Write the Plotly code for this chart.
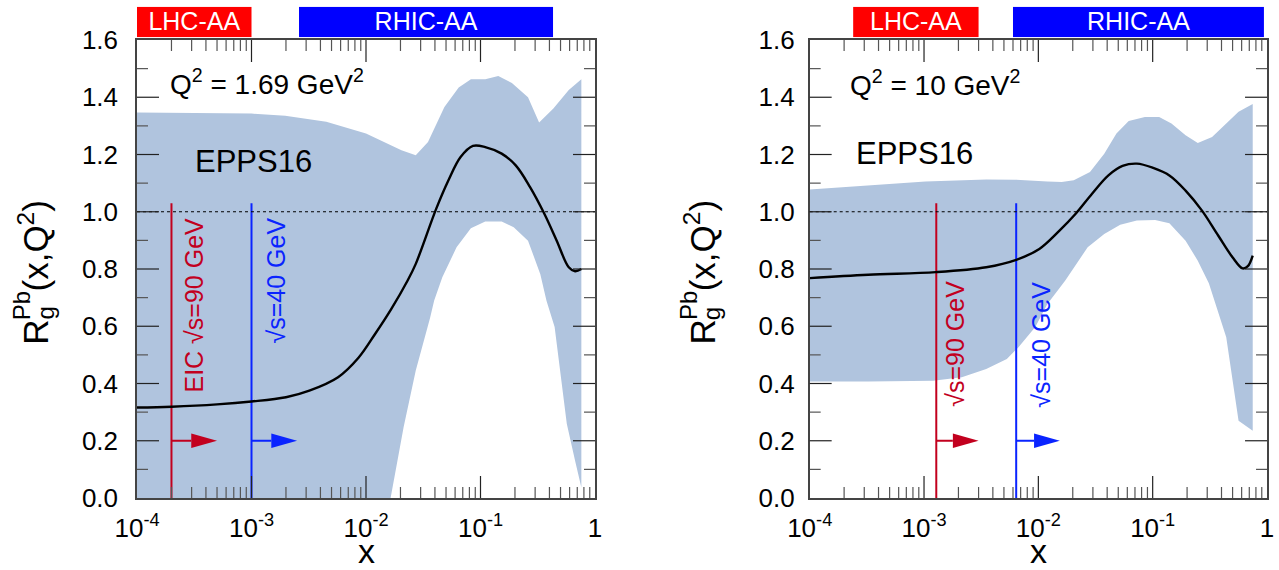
import numpy as np
import plotly.graph_objects as go

# ---------------- data ----------------
# Left panel: Q^2 = 1.69 GeV^2
center_x1 = [1e-4, 2e-4, 5e-4, 1e-3, 2e-3, 3.2e-3, 5.7e-3, 8.6e-3, 0.012, 0.0166, 0.0231, 0.0272,
             0.041, 0.0525, 0.067, 0.0859, 0.11, 0.153, 0.203, 0.271, 0.361, 0.462, 0.59, 0.67, 0.76]
center_y1 = [0.316, 0.319, 0.327, 0.337, 0.352, 0.375, 0.422, 0.49, 0.573, 0.66, 0.76, 0.818,
             1.01, 1.11, 1.191, 1.23, 1.226, 1.203, 1.162, 1.086, 0.993, 0.90, 0.806, 0.792, 0.80]
upper_x1 = [1e-4, 3e-4, 1e-3, 1.97e-3, 4.5e-3, 1.0e-2, 2.04e-2, 2.72e-2, 3.48e-2, 4.84e-2, 6.45e-2,
            8.25e-2, 0.11, 0.143, 0.188, 0.26, 0.325, 0.433, 0.59, 0.76]
upper_y1 = [1.347, 1.346, 1.343, 1.335, 1.314, 1.273, 1.215, 1.197, 1.244, 1.366, 1.434,
            1.463, 1.463, 1.474, 1.45, 1.40, 1.312, 1.361, 1.425, 1.463]
lower_x1 = [1e-4, 0.0164, 0.0213, 0.0272, 0.0363, 0.0394, 0.0464, 0.0618, 0.0824, 0.11, 0.153,
            0.195, 0.26, 0.333, 0.377, 0.444, 0.567, 0.67, 0.76]
lower_y1 = [0.0, 0.0, 0.247, 0.445, 0.63, 0.69, 0.771, 0.876, 0.942, 0.966, 0.966,
            0.946, 0.899, 0.782, 0.689, 0.597, 0.259, 0.13, 0.037]

# Right panel: Q^2 = 10 GeV^2
center_x2 = [1e-4, 3.25e-4, 1.27e-3, 3.5e-3, 6.4e-3, 0.0102, 0.0153, 0.0212, 0.0295, 0.041, 0.0545,
             0.0727, 0.101, 0.14, 0.194, 0.27, 0.374, 0.499, 0.612, 0.68, 0.75]
center_y2 = [0.768, 0.78, 0.789, 0.806, 0.832, 0.87, 0.934, 0.993, 1.063, 1.127, 1.16,
             1.168, 1.153, 1.127, 1.074, 1.004, 0.917, 0.841, 0.802, 0.81, 0.847]
upper_x2 = [1e-4, 3.25e-4, 1.03e-3, 3.5e-3, 6.2e-3, 0.012, 0.016, 0.0204, 0.0283, 0.0377, 0.0482,
            0.0617, 0.0855, 0.114, 0.146, 0.194, 0.248, 0.331, 0.44, 0.564, 0.75]
upper_y2 = [1.078, 1.092, 1.106, 1.113, 1.112, 1.106, 1.104, 1.11, 1.139, 1.203, 1.273,
            1.317, 1.331, 1.331, 1.308, 1.267, 1.24, 1.261, 1.308, 1.349, 1.376]
lower_x2 = [1e-4, 3.25e-4, 1.2e-3, 2.14e-3, 3.5e-3, 5.3e-3, 6.7e-3, 9.4e-3, 0.012, 0.0172, 0.027,
            0.0377, 0.052, 0.0727, 0.105, 0.14, 0.194, 0.248, 0.31, 0.44, 0.564, 0.75]
lower_y2 = [0.407, 0.407, 0.41, 0.422, 0.451, 0.486, 0.527, 0.597, 0.678, 0.76, 0.876,
            0.922, 0.955, 0.969, 0.971, 0.96, 0.899, 0.829, 0.75, 0.562, 0.27, 0.235]

# kinematic reach of the EIC (line position, arrow tip), arrow height, line top
eic90_x = [2e-4, 1.28e-3]
eic90_tip = [5e-4, 3.0e-3]
eic40_x = [1e-3, 6.4e-3]
eic40_tip = [2.5e-3, 1.54e-2]
arrow_level = 0.2
line_top = 1.03

# LHC / RHIC coverage bars (x ranges)
lhc_range = [[1e-4, 1e-3], [2.4e-4, 3.0e-3]]
rhic_range = [[2.6e-3, 0.43], [6.0e-3, 0.94]]

q2_labels = ["Q<sup>2</sup> = 1.69 GeV<sup>2</sup>", "Q<sup>2</sup> = 10 GeV<sup>2</sup>"]
eic90_labels = ["EIC \u221as=90 GeV", "\u221as=90 GeV"]
eic40_labels = ["\u221as=40 GeV", "\u221as=40 GeV"]
model_label = "EPPS16"

x_tickvals = [1e-4, 1e-3, 1e-2, 1e-1, 1]
x_ticktext = ["10<sup>-4</sup>", "10<sup>-3</sup>", "10<sup>-2</sup>", "10<sup>-1</sup>", "1"]
x_minor = [m * 10.0 ** e for e in range(-4, 0) for m in range(2, 10)]
y_major = [0.2, 0.4, 0.6, 0.8, 1.0, 1.2, 1.4]
y_minor = [0.1, 0.3, 0.5, 0.7, 0.9, 1.1, 1.3, 1.5]
y_range = [0, 1.6]
x_log_range = [-4, 0]

# ---------------- style ----------------
FONT = "Liberation Sans, Arial, Helvetica, sans-serif"
RED = "#c2001e"
BLUE = "#0a24ff"
BAND = "#b0c4de"
HEAD_DEC = 0.225   # arrow head length in decades
HEAD_HALF = 0.025  # arrow head half height in y units
MAJ_LEN, MIN_LEN = 22.0, 11.0
MAJ_COL, MIN_COL = "#222222", "#555555"

W, H = 1279, 570
ML, MR, MT, MB = 137, 12, 0, 72
PW = W - ML - MR
PHT = H - MT - MB          # total plotting height (498)
FRAME_TOP = 40.0           # pixel row of the frame top
PH = PHT - FRAME_TOP       # main plot height (458)
panel_left = [137.0, 809.7]
panel_w = 458.0
d1 = [0, panel_w / PW]
d2 = [(panel_left[1] - ML) / PW, 1.0]
ydom_main = [0, PH / PHT]
ydom_bar = [(PHT - 37.3) / PHT, (PHT - 6.7) / PHT]

fig = go.Figure()

panels = [
    dict(cx=center_x1, cy=center_y1, ux=upper_x1, uy=upper_y1, lx=lower_x1, ly=lower_y1),
    dict(cx=center_x2, cy=center_y2, ux=upper_x2, uy=upper_y2, lx=lower_x2, ly=lower_y2),
]

for i, p in enumerate(panels):
    xa = "x" if i == 0 else "x2"
    ya = "y" if i == 0 else "y2"
    # uncertainty band
    fig.add_trace(go.Scatter(x=list(p["ux"]) + list(p["lx"])[::-1],
                             y=list(p["uy"]) + list(p["ly"])[::-1],
                             mode="lines", fill="toself", fillcolor=BAND,
                             line=dict(width=0, color=BAND), xaxis=xa, yaxis=ya,
                             hoverinfo="skip", showlegend=False))
    # EIC lines and arrows
    for xv, tip, col in [(eic90_x[i], eic90_tip[i], RED), (eic40_x[i], eic40_tip[i], BLUE)]:
        base = tip / 10 ** HEAD_DEC
        fig.add_trace(go.Scatter(x=[xv, xv], y=[0, line_top], mode="lines",
                                 line=dict(color=col, width=2), xaxis=xa, yaxis=ya,
                                 hoverinfo="skip", showlegend=False))
        fig.add_trace(go.Scatter(x=[xv, base], y=[arrow_level, arrow_level], mode="lines",
                                 line=dict(color=col, width=2), xaxis=xa, yaxis=ya,
                                 hoverinfo="skip", showlegend=False))
        fig.add_trace(go.Scatter(x=[base, tip, base, base],
                                 y=[arrow_level - HEAD_HALF, arrow_level, arrow_level + HEAD_HALF,
                                    arrow_level - HEAD_HALF],
                                 mode="lines", fill="toself", fillcolor=col,
                                 line=dict(width=0, color=col), xaxis=xa, yaxis=ya,
                                 hoverinfo="skip", showlegend=False))
    # central curve
    fig.add_trace(go.Scatter(x=p["cx"], y=p["cy"], mode="lines", line=dict(color="black", width=2.4),
                             line_shape="spline", xaxis=xa, yaxis=ya, hoverinfo="skip",
                             showlegend=False))

    # coverage bars (own thin subplot above the frame)
    bxa = "x3" if i == 0 else "x4"
    bya = "y3" if i == 0 else "y4"
    for rng, col, lab in [(lhc_range[i], "#ff0000", "LHC-AA"), (rhic_range[i], "#0000ff", "RHIC-AA")]:
        fig.add_trace(go.Scatter(x=[rng[0], rng[1], rng[1], rng[0], rng[0]], y=[0, 0, 1, 1, 0],
                                 mode="lines", fill="toself", fillcolor=col, line=dict(width=0, color=col),
                                 xaxis=bxa, yaxis=bya, hoverinfo="skip", showlegend=False))
        fig.add_trace(go.Scatter(x=[np.sqrt(rng[0] * rng[1])], y=[0.45], mode="text", text=[lab],
                                 textposition="middle center", cliponaxis=False,
                                 textfont=dict(family=FONT, size=25, color="white"),
                                 xaxis=bxa, yaxis=bya, hoverinfo="skip", showlegend=False))

TF = dict(family=FONT, size=26, color="black")
axis_common = dict(showline=True, linecolor="#444", linewidth=1.5, mirror=True, ticks="",
                   showgrid=False, zeroline=False, tickfont=TF)
xcfg = dict(type="log", range=x_log_range, tickmode="array", tickvals=x_tickvals, ticktext=x_ticktext,
            ticklabelstandoff=6, **axis_common)
ycfg = dict(range=y_range, dtick=0.2, tick0=0, tickformat=".1f", **axis_common)
hidden = dict(visible=False, showgrid=False, zeroline=False, fixedrange=True)

fig.update_layout(
    width=W, height=H, margin=dict(l=ML, r=MR, t=MT, b=MB, autoexpand=False),
    paper_bgcolor="white", plot_bgcolor="rgba(0,0,0,0)",
    xaxis=dict(domain=d1, anchor="y", **xcfg),
    yaxis=dict(domain=ydom_main, anchor="x", ticklabelstandoff=12, **ycfg),
    xaxis2=dict(domain=d2, anchor="y2", **xcfg),
    yaxis2=dict(domain=ydom_main, anchor="x2", ticklabelstandoff=8, **ycfg),
    xaxis3=dict(domain=d1, anchor="y3", type="log", range=x_log_range, **hidden),
    yaxis3=dict(domain=ydom_bar, anchor="x3", range=[0, 1], **hidden),
    xaxis4=dict(domain=d2, anchor="y4", type="log", range=x_log_range, **hidden),
    yaxis4=dict(domain=ydom_bar, anchor="x4", range=[0, 1], **hidden),
    font=dict(family=FONT),
)

def fx(dx):
    return dx / panel_w

def fy(py):
    return (PHT - py) / PH

def x_frac(v):
    # position of a value along the log x axis, as a fraction of the axis length
    return (np.log10(v) - x_log_range[0]) / (x_log_range[1] - x_log_range[0])

ann = []
shapes = []
for i in range(2):
    xr = "x" if i == 0 else "x2"
    yr = "y" if i == 0 else "y2"
    xd = xr + " domain"
    yd = yr + " domain"
    # dotted line at 1
    shapes.append(dict(type="line", xref=xd, x0=0, x1=1, yref=yr, y0=1, y1=1,
                       line=dict(color="black", width=1, dash="dot"), layer="above"))
    # inside tick marks on all four sides
    for vals, ln, col in [(x_tickvals[1:-1], MAJ_LEN, MAJ_COL), (x_minor, MIN_LEN, MIN_COL)]:
        for v in vals:
            f = float(x_frac(v))
            shapes.append(dict(type="line", xref=xd, x0=f, x1=f, yref=yd, y0=0, y1=ln / PH,
                               line=dict(color=col, width=1.2), layer="above"))
            shapes.append(dict(type="line", xref=xd, x0=f, x1=f, yref=yd, y0=1, y1=1 - ln / PH,
                               line=dict(color=col, width=1.2), layer="above"))
    for vals, ln, col in [(y_major, MAJ_LEN, MAJ_COL), (y_minor, MIN_LEN, MIN_COL)]:
        for v in vals:
            shapes.append(dict(type="line", xref=xd, x0=0, x1=ln / panel_w, yref=yr, y0=v, y1=v,
                               line=dict(color=col, width=1.2), layer="above"))
            shapes.append(dict(type="line", xref=xd, x0=1, x1=1 - ln / panel_w, yref=yr, y0=v, y1=v,
                               line=dict(color=col, width=1.2), layer="above"))

    off = 0 if i == 0 else -6
    base = dict(showarrow=False, xanchor="center", yanchor="middle")
    # y-axis title pieces (stacked sub/superscript)
    ann.append(dict(text="R", xref=xd, x=fx(-101.8 + off), yref=yd, y=fy(332.5), textangle=-90,
                    font=dict(family=FONT, size=35, color="black"), **base))
    ann.append(dict(text="Pb", xref=xd, x=fx(-115.8 + off), yref=yd, y=fy(306), textangle=-90,
                    font=dict(family=FONT, size=24, color="black"), **base))
    ann.append(dict(text="g", xref=xd, x=fx(-92.0 + off), yref=yd, y=fy(313.5), textangle=-90,
                    font=dict(family=FONT, size=24, color="black"), **base))
    ann.append(dict(text="(x,Q<sup>2</sup>)", xref=xd, x=fx(-103.5 + off), yref=yd, y=fy(246),
                    textangle=-90, font=dict(family=FONT, size=35, color="black"), **base))
    # x title
    ann.append(dict(text="x", xref=xd, x=0.5, yref=yd, y=fy(551),
                    font=dict(family=FONT, size=34, color="black"), **base))

# in-panel texts
ann.append(dict(text=q2_labels[0], xref="x domain", x=fx(31), xanchor="left", yref="y domain",
                y=fy(82), yanchor="middle", showarrow=False,
                font=dict(family=FONT, size=28, color="black")))
ann.append(dict(text=q2_labels[1], xref="x2 domain", x=fx(38.3), xanchor="left", yref="y2 domain",
                y=fy(83), yanchor="middle", showarrow=False,
                font=dict(family=FONT, size=28, color="black")))
ann.append(dict(text=model_label, xref="x domain", x=fx(56), xanchor="left", yref="y domain",
                y=fy(161.5), yanchor="middle", showarrow=False,
                font=dict(family=FONT, size=31, color="black")))
ann.append(dict(text=model_label, xref="x2 domain", x=fx(44.3), xanchor="left", yref="y2 domain",
                y=fy(153.5), yanchor="middle", showarrow=False,
                font=dict(family=FONT, size=31, color="black")))
# EIC labels
for txt, xr, dx, top, col in [(eic90_labels[0], "x", 56, 216, RED),
                              (eic40_labels[0], "x", 138.5, 216, BLUE),
                              (eic90_labels[1], "x2", 145.3, 279, RED),
                              (eic40_labels[1], "x2", 231.3, 280, BLUE)]:
    ann.append(dict(text=txt, xref=xr + " domain", x=fx(dx), xanchor="center",
                    yref=("y" if xr == "x" else "y2") + " domain", y=fy(top), yanchor="top",
                    textangle=-90, showarrow=False, font=dict(family=FONT, size=25, color=col)))

fig.update_layout(annotations=ann, shapes=shapes)
fig.write_html("out.html")
